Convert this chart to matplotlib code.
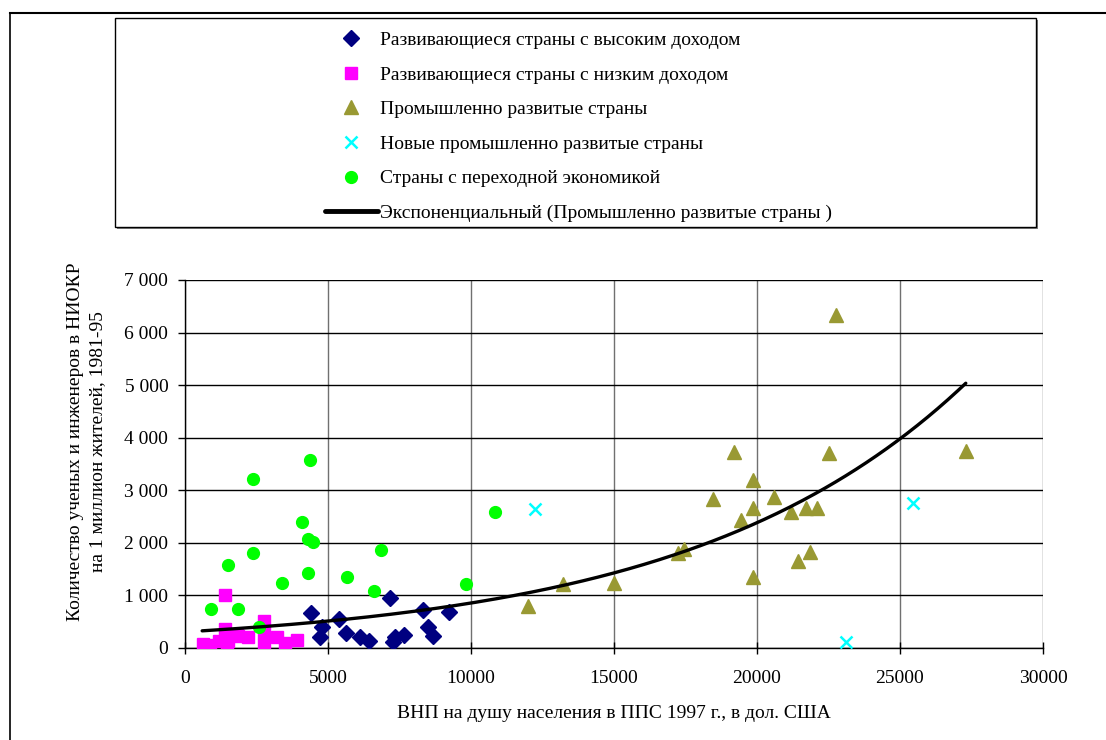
import numpy as np
import matplotlib
matplotlib.use("Agg")
import matplotlib.pyplot as plt
from matplotlib.patches import Rectangle
from matplotlib.lines import Line2D
from matplotlib.ticker import FuncFormatter

plt.rcParams['font.family'] = ['Liberation Serif', 'DejaVu Serif']

# ---- data ----
hi_dev_x = [4400, 4780, 4720, 5400, 5620, 6120, 6450, 7170, 7260, 7340, 7660, 8310, 8490, 8660, 9240]
hi_dev_y = [660, 390, 200, 550, 280, 200, 130, 960, 110, 210, 250, 720, 400, 230, 690]

lo_dev_x = [640, 870, 1200, 1400, 1400, 1460, 1520, 1810, 1870, 2200, 2750, 2760, 2760, 3210, 3500, 3900]
lo_dev_y = [80, 60, 130, 1000, 370, 90, 130, 250, 220, 210, 520, 280, 60, 210, 90, 150]

ind_x = [22750, 19200, 22500, 27300, 19850, 18450, 20600, 19850, 19450, 21200,
         21700, 22100, 21850, 21450, 19850, 17250, 17450, 15000, 13200, 12000]
ind_y = [6330, 3730, 3700, 3750, 3200, 2830, 2870, 2670, 2430, 2590,
         2670, 2670, 1830, 1650, 1350, 1800, 1890, 1240, 1220, 800]

nic_x = [12250, 25450, 23100]
nic_y = [2650, 2750, 120]

trans_x = [4370, 2380, 4100, 4310, 4460, 6860, 2380, 1520, 4300, 5660, 3390, 6610, 10850, 9830, 910, 1870, 2590]
trans_y = [3570, 3220, 2390, 2070, 2020, 1860, 1810, 1580, 1430, 1350, 1240, 1080, 2590, 1210, 750, 750, 400]

trend_x_range = [600, 27300]

labels = ["Развивающиеся страны с высоким доходом",
          "Развивающиеся страны с низким доходом",
          "Промышленно развитые страны",
          "Новые промышленно развитые страны",
          "Страны с переходной экономикой",
          "Экспоненциальный (Промышленно развитые страны )"]
x_label = "ВНП на душу населения в ППС 1997 г., в дол. США"
y_label = "Количество ученых и инженеров в НИОКР\nна 1 миллион жителей, 1981-95"
x_ticks = [0, 5000, 10000, 15000, 20000, 25000, 30000]
y_ticks = [0, 1000, 2000, 3000, 4000, 5000, 6000, 7000]

# ---- figure ----
W, H = 1106, 740
fig = plt.figure(figsize=(W / 100, H / 100), dpi=100)

def fx(px):
    return px / W

def fy(py):
    return 1 - py / H

FS = 14

# outer frame (top and left lines)
fig.add_artist(Line2D([fx(9.5), 1.0], [fy(12.5), fy(12.5)], color='black', lw=1.5, transform=fig.transFigure))
fig.add_artist(Line2D([fx(9.5), fx(9.5)], [fy(12.5), 0.0], color='black', lw=1.2, transform=fig.transFigure))

# legend box with shadow
lx0, ly0, lx1, ly1 = 115, 18, 1036, 227
fig.add_artist(Rectangle((fx(lx0 + 2), fy(ly1 + 2)), fx(lx1 - lx0), fy(ly0) - fy(ly1),
                         transform=fig.transFigure, facecolor='#808080', edgecolor='none', zorder=1))
fig.add_artist(Rectangle((fx(lx0), fy(ly1)), fx(lx1 - lx0), fy(ly0) - fy(ly1),
                         transform=fig.transFigure, facecolor='white', edgecolor='black', lw=1.0, zorder=2))

ax = fig.add_axes([fx(185), fy(648), fx(1043 - 185), fy(280) - fy(648)])

h1, = ax.plot(hi_dev_x, hi_dev_y, linestyle='none', marker='D', markersize=8, color='#000080', zorder=3)
h2, = ax.plot(lo_dev_x, lo_dev_y, linestyle='none', marker='s', markersize=8, color='#FF00FF', zorder=3)
h3, = ax.plot(ind_x, ind_y, linestyle='none', marker='^', markersize=10, color='#999933', zorder=3)
h4, = ax.plot(nic_x, nic_y, linestyle='none', marker='x', markersize=9, markeredgewidth=1.8, color='#00FFFF', zorder=3)
h5, = ax.plot(trans_x, trans_y, linestyle='none', marker='o', markersize=8.5, color='#00FF00', zorder=3)

# exponential trend line fitted to industrial countries
b, ln_a = np.polyfit(np.array(ind_x, float), np.log(np.array(ind_y, float)), 1)
tx = np.linspace(trend_x_range[0], trend_x_range[1], 300)
ty = np.exp(ln_a) * np.exp(b * tx)
h6, = ax.plot(tx, ty, color='black', lw=2.4, solid_capstyle='round', zorder=4)

ax.set_xlim(0, 30000)
ax.set_ylim(0, 7000)
ax.set_xticks(x_ticks)
ax.set_yticks(y_ticks)
ax.xaxis.set_major_formatter(FuncFormatter(lambda v, p: f"{int(v)}"))
ax.yaxis.set_major_formatter(FuncFormatter(lambda v, p: f"{int(v):,}".replace(",", " ")))
ax.tick_params(axis='x', direction='inout', length=8, width=1, labelsize=FS, pad=11.5)
ax.tick_params(axis='y', direction='out', length=5, width=1, labelsize=FS, pad=7)
ax.grid(axis='y', color='black', lw=1.0)
ax.grid(axis='x', color='#707070', lw=1.0)
ax.set_axisbelow(True)
for s in ['top', 'right']:
    ax.spines[s].set_visible(False)
for s in ['left', 'bottom']:
    ax.spines[s].set_color('black')
    ax.spines[s].set_linewidth(1.0)

ax.set_xlabel(x_label, fontsize=FS)
ax.xaxis.set_label_coords(0.5, (648 - 705) / 368, transform=ax.transAxes)
ax.xaxis.label.set_va('top')
ax.set_ylabel(y_label, fontsize=FS, linespacing=1.35)
ax.yaxis.set_label_coords((106 - 185) / 858, (648 - 442) / 368, transform=ax.transAxes)

leg = fig.legend([h1, h2, h3, h4, h5, h6], labels, loc='upper left',
                 bbox_to_anchor=(fx(311), fy(18)), frameon=False, numpoints=1,
                 fontsize=FS, handlelength=2.75, handletextpad=0.1,
                 labelspacing=0.87, borderpad=0.2)
leg.set_zorder(5)
leg.legend_handles[5].set_linewidth(3.5)

fig.savefig("out.png", dpi=100)
